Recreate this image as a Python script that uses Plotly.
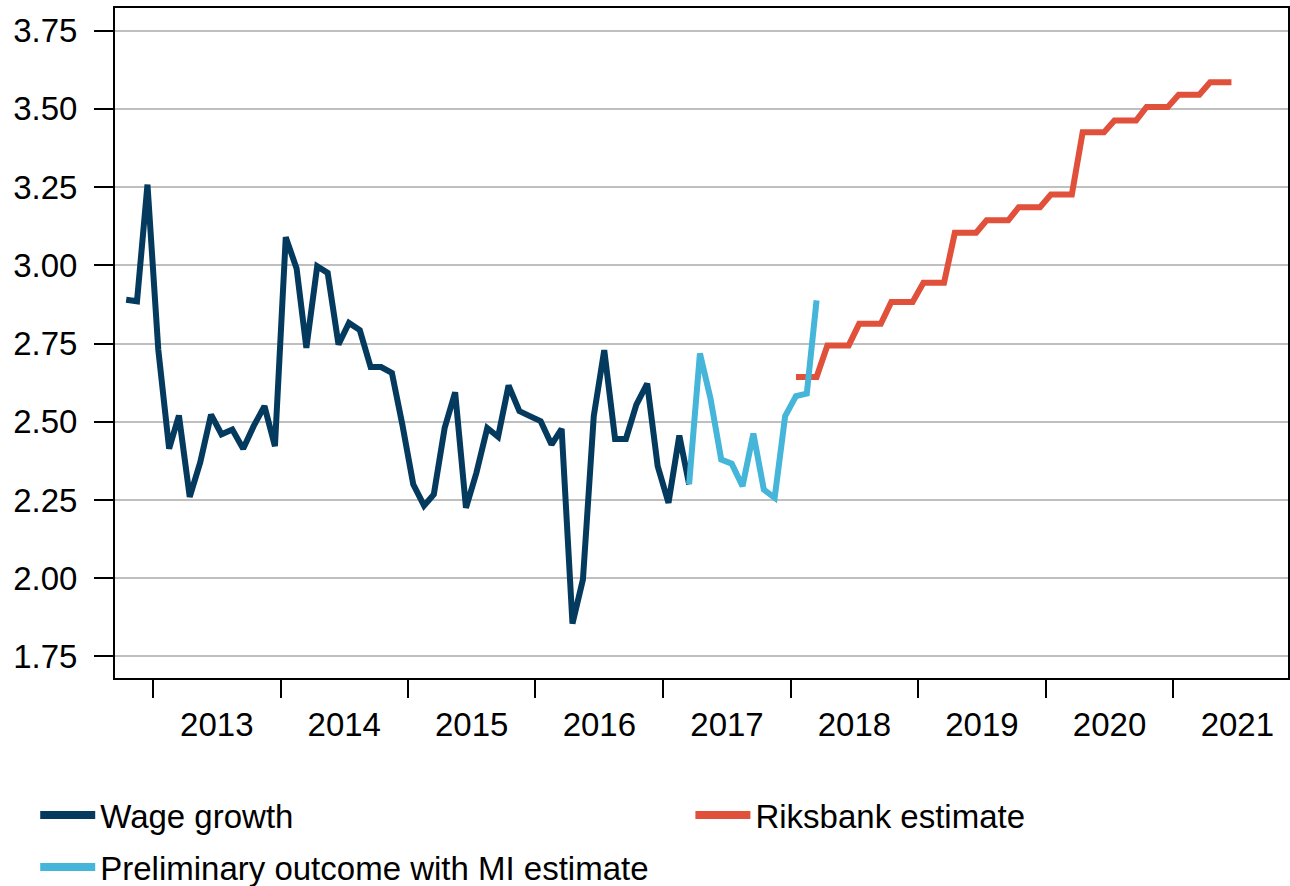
import pandas as pd
import plotly.graph_objects as go

# ---- data (monthly) ----
wage_start = "2012-10-01"
wage_growth = [2.89, 2.885, 3.258, 2.73, 2.414, 2.52, 2.26, 2.37, 2.523, 2.46,
               2.475, 2.414, 2.486, 2.55, 2.422, 3.09, 2.99, 2.736, 2.997, 2.976,
               2.747, 2.816, 2.793, 2.675, 2.675, 2.656, 2.49, 2.30, 2.232, 2.268,
               2.48, 2.594, 2.225, 2.337, 2.48, 2.452, 2.616, 2.534, 2.518, 2.502,
               2.427, 2.477, 1.855, 1.996, 2.518, 2.729, 2.445, 2.445, 2.555, 2.622,
               2.358, 2.241, 2.456, 2.30]

prelim_start = "2017-03-01"
preliminary = [2.30, 2.718, 2.576, 2.379, 2.366, 2.294, 2.462, 2.283, 2.257,
               2.518, 2.582, 2.590, 2.888]

riks_start = "2018-01-01"
riksbank = [2.643, 2.643, 2.643, 2.744, 2.744, 2.744, 2.813, 2.813, 2.813,
            2.883, 2.883, 2.883, 2.944, 2.944, 2.944, 3.104, 3.104, 3.104,
            3.144, 3.144, 3.144, 3.186, 3.186, 3.186, 3.226, 3.226, 3.226,
            3.425, 3.425, 3.425, 3.463, 3.463, 3.463, 3.506, 3.506, 3.506,
            3.545, 3.545, 3.545, 3.585, 3.585, 3.585]

y_ticks = [1.75, 2.00, 2.25, 2.50, 2.75, 3.00, 3.25, 3.50, 3.75]

names = ["Wage growth", "Riksbank estimate", "Preliminary outcome with MI estimate"]
colors = ["#053A5F", "#E0503A", "#45B5D9"]


def months(start, n):
    # month categories, plotted at mid-month
    return pd.date_range(start, periods=n, freq="MS") + pd.Timedelta(days=15)


FONT = "Liberation Sans, Arial, sans-serif"
FS = 33

fig = go.Figure()

series = [
    (months(wage_start, len(wage_growth)), wage_growth),
    (months(riks_start, len(riksbank)), riksbank),
    (months(prelim_start, len(preliminary)), preliminary),
]
for (x, y), name, c in zip(series, names, colors):
    fig.add_trace(go.Scatter(x=x, y=y, mode="lines", name=name,
                             line=dict(color=c, width=6), showlegend=False))

# legend entries (thicker legend lines, like the reference)
legend_ids = ["legend", "legend2", "legend3"]
for name, c, lg in zip(names, colors, legend_ids):
    fig.add_trace(go.Scatter(x=[None], y=[None], mode="lines", name=name,
                             line=dict(color=c, width=8), showlegend=True,
                             legend=lg))

leg_common = dict(orientation="h", xanchor="left", yanchor="middle",
                  xref="container", yref="container",
                  itemwidth=55, bgcolor="rgba(0,0,0,0)",
                  font=dict(family=FONT, size=FS, color="black"))

fig.update_layout(
    width=1290, height=886,
    margin=dict(l=115, r=2, t=8, b=208),
    paper_bgcolor="white", plot_bgcolor="white",
    font=dict(family=FONT, size=FS, color="black"),
    xaxis=dict(
        type="date",
        range=["2012-09-14", "2021-11-25"],
        tick0="2013-01-01", dtick="M12",
        tickformat="%Y", ticklabelmode="period",
        ticks="outside", ticklen=18, tickwidth=2, tickcolor="black",
        showline=True, linecolor="black", linewidth=2, mirror=True,
        showgrid=False, zeroline=False, automargin=False,
        tickfont=dict(family=FONT, size=FS, color="black"),
        ticklabelstandoff=-2,
    ),
    yaxis=dict(
        range=[1.681, 3.8225],
        tickvals=y_ticks, tickformat=".2f",
        ticks="outside", ticklen=19, tickwidth=2, tickcolor="black",
        showline=True, linecolor="black", linewidth=2, mirror=True,
        showgrid=True, gridcolor="#BFBFBF", gridwidth=2,
        zeroline=False, automargin=False,
        tickfont=dict(family=FONT, size=FS, color="black"),
        ticklabelstandoff=10,
    ),
    legend=dict(x=0.0273, y=0.0801, **leg_common),
    legend2=dict(x=0.5352, y=0.0801, **leg_common),
    legend3=dict(x=0.0273, y=0.0214, **leg_common),
)

fig.write_html("out.html",
               config={"displayModeBar": False},
               post_script="document.body.style.margin='0';"
                           "document.body.style.overflow='hidden';")
